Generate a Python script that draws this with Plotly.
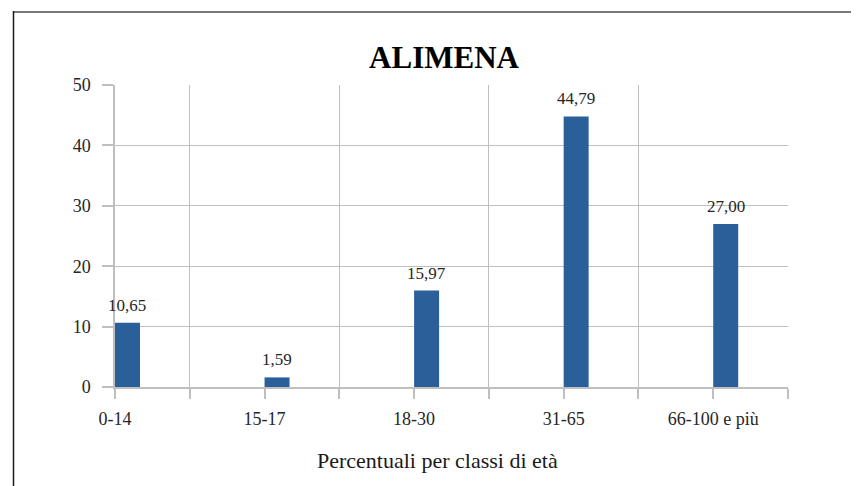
import plotly.graph_objects as go

categories = ["0-14", "15-17", "18-30", "31-65", "66-100 e più"]
values = [10.65, 1.59, 15.97, 44.79, 27.00]
y_ticks = [0, 10, 20, 30, 40, 50]

W, H = 859, 486
OFF = 8  # page body margin offset
L, R, T, B = 115 - OFF, 788 - OFF, 85 - OFF, 387 - OFF  # plot area in figure pixels

def px(x):
    return (x - OFF - L) / (R - L)

def py(y):
    return (B - (y - OFF)) / (B - T)

FONT = "Liberation Serif, Times New Roman, serif"
GRID = "#BFBFBF"
BAR_W = 0.167
positions = list(range(len(categories)))

fig = go.Figure(go.Bar(
    x=positions,
    y=values,
    width=BAR_W,
    offset=0,
    marker=dict(color="#2A5F9A", line=dict(width=0)),
    hoverinfo="x+y",
))

labels = [dict(
    x=p + BAR_W / 2, y=v, xref="x", yref="y",
    text=f"{v:.2f}".replace(".", ","),
    xanchor="center", yanchor="bottom", yshift=6,
    showarrow=False,
    font=dict(family=FONT, size=17, color="#262626"),
) for p, v in zip(positions, values)]

fig.update_layout(
    width=W, height=H,
    margin=dict(l=L, r=W - R, t=T, b=H - B, pad=0),
    paper_bgcolor="white", plot_bgcolor="white",
    separators=",.",
    showlegend=False,
    font=dict(family=FONT, color="#262626"),
    title=dict(text="<b>ALIMENA</b>", x=(444 - OFF) / W, xanchor="center",
               y=1 - (57 - OFF) / H, yanchor="middle",
               font=dict(family=FONT, size=31, color="#000000")),
    xaxis=dict(
        range=[0, 4.5],
        tickmode="array", tickvals=positions, ticktext=categories,
        ticks="outside", ticklen=10, tickcolor=GRID, tickwidth=1.5,
        showgrid=False, zeroline=False,
        showline=True, linecolor=GRID, linewidth=2,
        tickfont=dict(family=FONT, size=18, color="#262626"),
        ticklabelstandoff=4,
        minor=dict(tickmode="array", tickvals=[p + 0.5 for p in positions],
                   ticks="outside", ticklen=10, tickcolor=GRID, tickwidth=1.5,
                   showgrid=True, gridcolor=GRID, gridwidth=1),
        fixedrange=True,
    ),
    yaxis=dict(
        range=[0, 50],
        tickmode="array", tickvals=y_ticks,
        ticks="outside", ticklen=11, tickcolor=GRID, tickwidth=1.5,
        showgrid=True, gridcolor=GRID, gridwidth=1,
        zeroline=False,
        showline=True, linecolor=GRID, linewidth=1.5,
        tickfont=dict(family=FONT, size=18, color="#262626"),
        ticklabelstandoff=8,
        fixedrange=True,
    ),
    annotations=labels + [dict(
        text="Percentuali per classi di età",
        xref="paper", yref="paper",
        x=px(437.5), y=py(460), xanchor="center", yanchor="middle",
        showarrow=False,
        font=dict(family=FONT, size=22, color="#1a1a1a"),
    )],
    shapes=[
        dict(type="line", xref="paper", yref="paper",
             x0=px(13.5), x1=px(870), y0=py(12), y1=py(12),
             line=dict(color="#7a7a7a", width=2)),
        dict(type="line", xref="paper", yref="paper",
             x0=px(13.5), x1=px(13.5), y0=py(11), y1=py(500),
             line=dict(color="#1a1a1a", width=1.5)),
        dict(type="line", xref="paper", yref="paper",
             x0=px(0), x1=px(7), y0=py(112), y1=py(112),
             line=dict(color="#1a1a1a", width=2)),
    ],
)

fig.write_html("out.html")
